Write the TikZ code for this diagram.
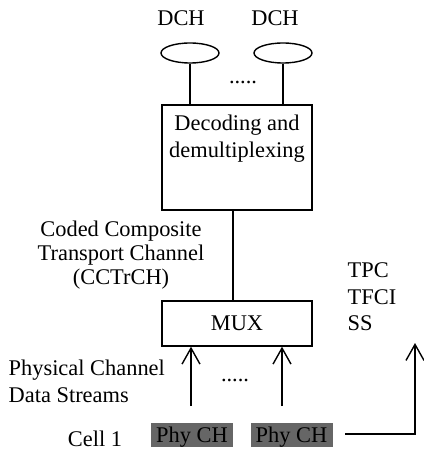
\documentclass[tikz,border=0pt]{standalone}
\usepackage{fontspec}
\setmainfont{Liberation Serif}
\usetikzlibrary{arrows.meta,shapes.geometric,positioning}

\begin{document}
\begin{tikzpicture}
    [
        x=0.5pt, y=-0.5pt,
        line width=0.7pt,
        font=\fontsize{11.2}{13.3}\selectfont,
        Block/.style={rectangle, draw, line width=0.7pt, inner sep=0pt},
        Channel/.style={ellipse, draw, line width=0.7pt, minimum width=29pt, minimum height=10pt, inner sep=0pt},
        TextBox/.style={inner sep=0pt, align=center},
        PhyBox/.style={rectangle, fill=black!60, minimum width=41pt, minimum height=12pt, inner sep=0pt},
        OpenArrow/.style={-{Straight Barb[length=8pt,width=9pt,line width=0.7pt]}}
    ]
    \useasboundingbox (0,0) rectangle (423,454);

    % transport channels
    \node[TextBox] (dch_label1) at (181,18) {DCH};
    \node[TextBox] (dch_label2) at (275,18) {DCH};
    \node[Channel] (dch1) at (190,53) {};
    \node[Channel] (dch2) at (283,53) {};
    \node[TextBox] (dch_dots) at (243,82) {.....};

    % decoding block
    \node[Block, minimum width=75pt, minimum height=52.5pt] (decoding) at (237,157.5) {};
    \node[TextBox, below=5pt of decoding.north] (decoding_text) {Decoding and\\demultiplexing};

    \draw (dch1) -- (dch1 |- decoding.north);
    \draw (dch2) -- (dch2 |- decoding.north);

    % multiplexer
    \node[Block, minimum width=75pt, minimum height=22.5pt] (mux) at (237,323.5) {MUX};
    \draw (decoding.south -| 233,0) coordinate (cc_top) -- (cc_top |- mux.north);

    \node[TextBox, font=\fontsize{11.2}{12}\selectfont] (cctrch) at (121,255) {Coded Composite\\Transport Channel\\(CCTrCH)};
    \node[TextBox, align=left, anchor=north west] (control) at (347,262) {TPC\\TFCI\\SS};

    % physical channels
    \node[PhyBox] (phy1) at (192,435) {};
    \node[TextBox] (phy1_text) at (192,437) {Phy CH};
    \node[PhyBox] (phy2) at (291.5,435) {};
    \node[TextBox] (phy2_text) at (291.5,437) {Phy CH};
    \node[TextBox] (cell) at (95,439) {Cell 1};

    \node[TextBox, align=left, anchor=west, font=\fontsize{11.2}{13.5}\selectfont] (streams) at (8,381) {Physical Channel\\Data Streams};
    \node[TextBox] (phy_dots) at (235,380) {.....};

    \coordinate (stream1) at (191,406);
    \coordinate (stream2) at (282,406);
    \draw[OpenArrow] (stream1) -- (stream1 |- mux.south);
    \draw[OpenArrow] (stream2) -- (stream2 |- mux.south);

    \coordinate (corner) at (415,434);
    \coordinate (ctrl_tip) at (415,343);
    \draw[OpenArrow] (phy2.east |- corner) ++(12,0) -- (corner) -- (ctrl_tip);
\end{tikzpicture}
\end{document}
